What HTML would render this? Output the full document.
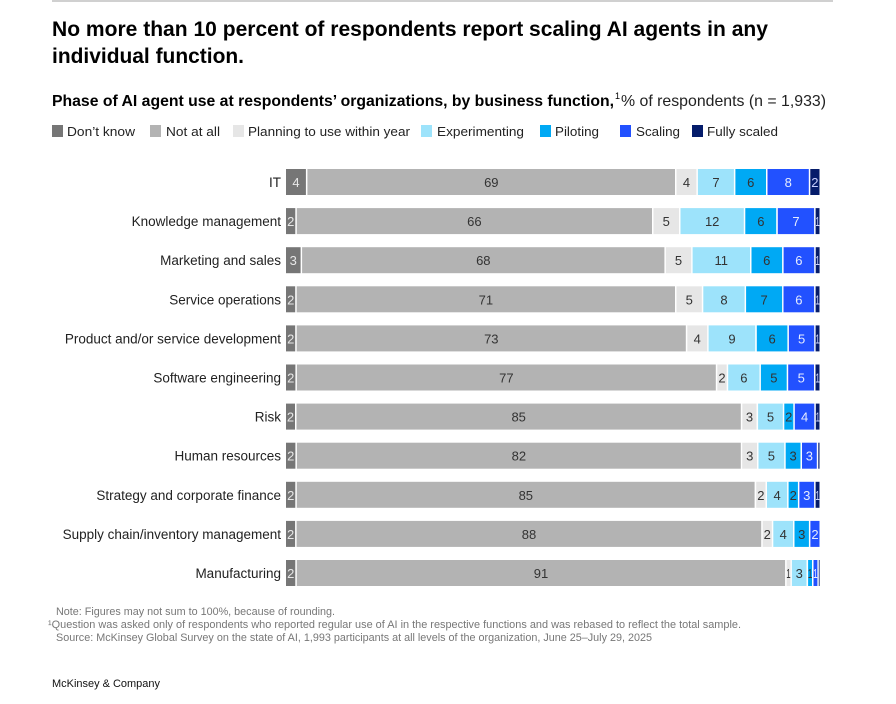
<!DOCTYPE html>
<html><head><meta charset="utf-8"><style>
body{margin:0;background:#fff}
svg{display:block;font-family:"Liberation Sans",sans-serif}
</style></head><body>
<svg id="s" width="896" height="704" viewBox="0 0 896 704" xmlns="http://www.w3.org/2000/svg">
<rect x="52" y="0" width="781" height="2" fill="#d0d0d0"/>
<text x="52" y="36" font-size="21" font-weight="bold" fill="#000" textLength="716" lengthAdjust="spacingAndGlyphs">No more than 10 percent of respondents report scaling AI agents in any</text>
<text x="52" y="63" font-size="21" font-weight="bold" fill="#000" textLength="192" lengthAdjust="spacingAndGlyphs">individual function.</text>
<text x="52" y="106" font-size="16" font-weight="bold" fill="#000" textLength="562" lengthAdjust="spacingAndGlyphs">Phase of AI agent use at respondents’ organizations, by business function,</text>
<text x="615" y="99" font-size="9" fill="#000">1</text>
<text x="621" y="106" font-size="16" fill="#222" textLength="205" lengthAdjust="spacingAndGlyphs">% of respondents (n = 1,933)</text>
<g font-size="13" fill="#222">
<rect x="52" y="125" width="11" height="12" fill="#767676"/><text x="67" y="136" textLength="68" lengthAdjust="spacingAndGlyphs">Don’t know</text>
<rect x="150" y="125" width="11" height="12" fill="#b3b3b3"/><text x="166" y="136" textLength="54" lengthAdjust="spacingAndGlyphs">Not at all</text>
<rect x="233" y="125" width="11" height="12" fill="#e6e6e6"/><text x="248" y="136" textLength="162" lengthAdjust="spacingAndGlyphs">Planning to use within year</text>
<rect x="421" y="125" width="11" height="12" fill="#9de3fb"/><text x="437" y="136" textLength="87" lengthAdjust="spacingAndGlyphs">Experimenting</text>
<rect x="540" y="125" width="11" height="12" fill="#00a9f4"/><text x="555" y="136" textLength="44" lengthAdjust="spacingAndGlyphs">Piloting</text>
<rect x="620" y="125" width="11" height="12" fill="#2251ff"/><text x="636" y="136" textLength="44" lengthAdjust="spacingAndGlyphs">Scaling</text>
<rect x="692" y="125" width="11" height="12" fill="#051c6b"/><text x="707" y="136" textLength="71" lengthAdjust="spacingAndGlyphs">Fully scaled</text>
</g>
<g id="bars"></g>
<g font-size="11" fill="#777">
<text x="56" y="615" textLength="279" lengthAdjust="spacingAndGlyphs">Note: Figures may not sum to 100%, because of rounding.</text>
<text x="48" y="628" textLength="693" lengthAdjust="spacingAndGlyphs">¹Question was asked only of respondents who reported regular use of AI in the respective functions and was rebased to reflect the total sample.</text>
<text x="56" y="641" textLength="596" lengthAdjust="spacingAndGlyphs">Source: McKinsey Global Survey on the state of AI, 1,993 participants at all levels of the organization, June 25–July 29, 2025</text>
</g>
<text x="52" y="687" font-size="11" fill="#111" textLength="108" lengthAdjust="spacingAndGlyphs">McKinsey &amp; Company</text>
</svg>
<script>
var rows=[
["IT",[4,69,4,7,6,8,2]],
["Knowledge management",[2,66,5,12,6,7,1]],
["Marketing and sales",[3,68,5,11,6,6,1]],
["Service operations",[2,71,5,8,7,6,1]],
["Product and/or service development",[2,73,4,9,6,5,1]],
["Software engineering",[2,77,2,6,5,5,1]],
["Risk",[2,85,3,5,2,4,1]],
["Human resources",[2,82,3,5,3,3,0.5]],
["Strategy and corporate finance",[2,85,2,4,2,3,1]],
["Supply chain/inventory management",[2,88,2,4,3,2,0]],
["Manufacturing",[2,91,1,3,1,1,0.4]]];
var cols=["#767676","#b3b3b3","#e6e6e6","#9de3fb","#00a9f4","#2251ff","#051c6b"];
var tc=["#e8e8e8","#333","#333","#333","#333","#e6ecff","#c8d0ff"];
var h="",x0=286,W=535;
rows.forEach(function(r,i){
 var y=169+i*39.1,s=r[1].reduce(function(a,b){return a+b},0),x=x0;
 h+='<text x="281" y="'+(y+18)+'" font-size="13.5" text-anchor="end" fill="#222">'+r[0].replace("&","&amp;")+'</text>';
 r[1].forEach(function(v,j){
  if(!v)return;var w=v/s*W;
  h+='<rect x="'+x.toFixed(1)+'" y="'+y.toFixed(1)+'" width="'+Math.max(w-1.5,0.8).toFixed(1)+'" height="26" fill="'+cols[j]+'"/>';
  if(v>=1){var lab=String(v);
   h+='<text x="'+(x+w/2-0.7).toFixed(1)+'" y="'+(y+18).toFixed(1)+'" font-size="13" text-anchor="middle" fill="'+tc[j]+'"'+(w<9?' textLength="'+Math.max(w-1,3).toFixed(1)+'" lengthAdjust="spacingAndGlyphs"':'')+'>'+lab+'</text>';}
  x+=w;});
});
document.getElementById("bars").innerHTML=h;
</script>
</body></html>
